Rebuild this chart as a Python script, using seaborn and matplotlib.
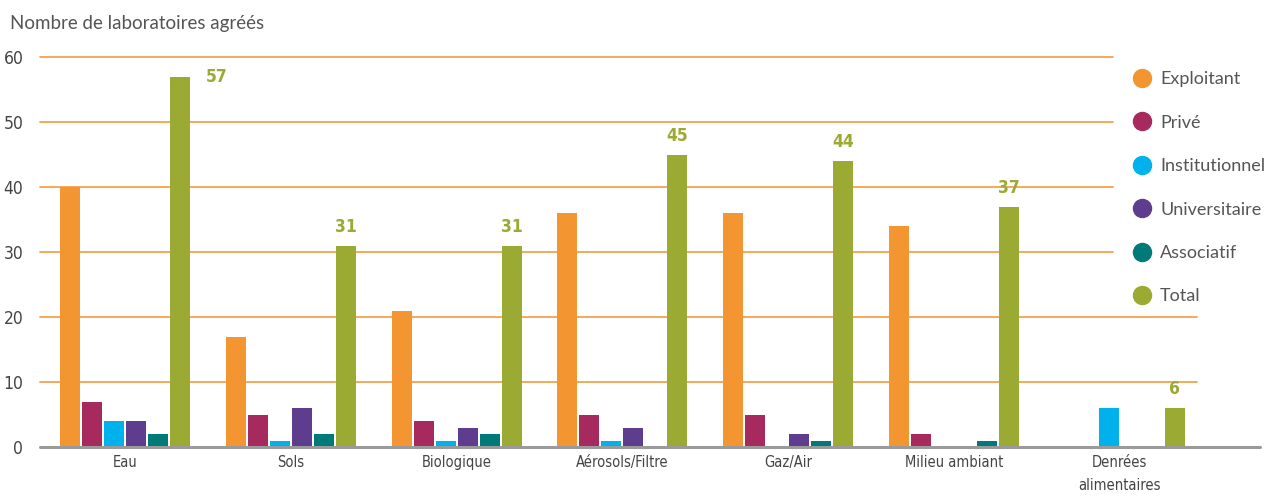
import matplotlib
matplotlib.use("Agg")
import matplotlib.pyplot as plt
import seaborn as sns
import pandas as pd
from matplotlib.lines import Line2D
from matplotlib import font_manager

categories = ["Eau", "Sols", "Biologique", "Aérosols/Filtre", "Gaz/Air",
              "Milieu ambiant", "Denrées\nalimentaires"]
series = ["Exploitant", "Privé", "Institutionnel", "Universitaire", "Associatif", "Total"]
exploitant = [40, 17, 21, 36, 36, 34, 0]
prive = [7, 5, 4, 5, 5, 2, 0]
institutionnel = [4, 1, 1, 1, 0, 0, 6]
universitaire = [4, 6, 3, 3, 2, 0, 0]
associatif = [2, 2, 2, 0, 1, 1, 0]
total = [57, 31, 31, 45, 44, 37, 6]
y_ticks = [0, 10, 20, 30, 40, 50, 60]
title = "Nombre de laboratoires agréés"

colors = ["#F39631", "#A62A5E", "#00B1EB", "#5F3D8E", "#007A78", "#9AAA33"]

values = [exploitant, prive, institutionnel, universitaire, associatif, total]
rows = []
for s, vals in zip(series, values):
    for c, v in zip(categories, vals):
        rows.append({"cat": c, "serie": s, "val": v})
df = pd.DataFrame(rows)

sns.set_style("white")
plt.rcParams["font.family"] = ["Lato", "DejaVu Sans"]

names = {f.name for f in font_manager.fontManager.ttflist}
if "Liberation Sans Narrow" in names:
    narrow = dict(family="Liberation Sans Narrow")
else:
    narrow = dict(family="DejaVu Sans", stretch="condensed")

fig = plt.figure(figsize=(12.68, 4.97), dpi=100)
ax = fig.add_axes([40 / 1268, 50 / 497, 1220 / 1268, 390 / 497])

sns.barplot(data=df, x="cat", y="val", hue="serie", order=categories,
            hue_order=series, palette=colors, width=0.796, gap=0.09,
            saturation=1, legend=False, ax=ax, zorder=3, linewidth=0)

ax.set_xlim(-0.513, 6.845)
ax.set_ylim(0, 60)

grid_col = "#F5A24E"
for t in y_ticks[1:]:
    xmax = 0.948 if t <= 20 else 0.8795
    ax.axhline(t, xmin=0, xmax=xmax, color=grid_col, lw=1.3, zorder=1, clip_on=False)
ax.axhline(0, color="#9A9A9A", lw=2.2, zorder=4, clip_on=False)

for sp in ax.spines.values():
    sp.set_visible(False)
ax.set_xlabel("")
ax.set_ylabel("")
ax.set_yticks(y_ticks)
ax.set_yticklabels([str(t) for t in y_ticks], fontsize=12.5, color="#444444", **narrow)
ax.set_xticks(range(len(categories)))
ax.set_xticklabels(categories, fontsize=10.5, color="#444444",
                   linespacing=1.65, **narrow)
ax.tick_params(axis="y", length=0, pad=12)
ax.tick_params(axis="x", length=0, pad=6)

total_bars = ax.containers[5]
for bar, v in zip(total_bars, total):
    cx = bar.get_x() + bar.get_width() / 2
    if v > 55:
        ax.annotate(str(v), (bar.get_x() + bar.get_width(), v), xytext=(11, 0),
                    textcoords="offset points", ha="left", va="center",
                    fontweight="bold", fontsize=12.5, color=colors[5],
                    annotation_clip=False, **narrow)
    else:
        ax.annotate(str(v), (cx, v), xytext=(0, 7), textcoords="offset points",
                    ha="center", va="bottom", fontweight="bold",
                    fontsize=12.5, color=colors[5], annotation_clip=False, **narrow)

fig.text(10 / 1268, 1 - 24 / 497, title, fontsize=13.5, color="#555555",
         ha="left", va="center")

handles = [Line2D([0], [0], marker="o", linestyle="", markersize=13,
                  markerfacecolor=c, markeredgecolor=c) for c in colors]
fig.legend(handles, series, loc="upper left",
           bbox_to_anchor=(1124 / 1268, 1 - 64 / 497), frameon=False,
           fontsize=13, labelcolor="#555555", handletextpad=0.4,
           labelspacing=1.52, handlelength=1.2, borderaxespad=0)

fig.savefig("out.png", dpi=100)
